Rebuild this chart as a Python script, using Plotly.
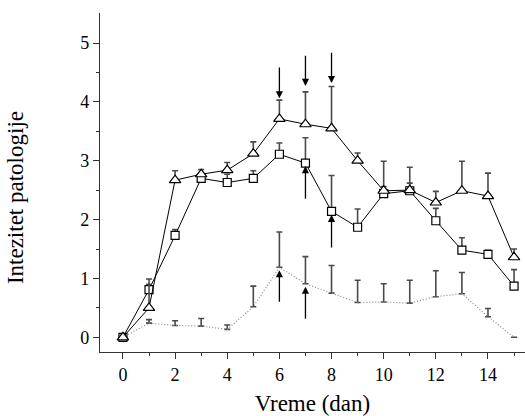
import plotly.graph_objects as go

# Days of observation
days = list(range(16))

# Group A (open triangles): mean pathology score and upper error
tri_mean = [0.00, 0.50, 2.67, 2.77, 2.84, 3.12, 3.71, 3.62, 3.55, 3.00, 2.49, 2.50, 2.29, 2.49, 2.40, 1.36]
tri_top = [0.00, 0.90, 2.83, 2.85, 2.97, 3.32, 4.03, 4.17, 4.26, 3.13, 2.99, 2.89, 2.48, 2.99, 2.79, 1.50]

# Group B (open squares)
sq_mean = [0.00, 0.81, 1.73, 2.70, 2.63, 2.70, 3.11, 2.96, 2.14, 1.87, 2.44, 2.49, 1.98, 1.48, 1.41, 0.87]
sq_top = [0.00, 0.99, 1.83, 2.76, 2.77, 2.83, 3.30, 3.39, 2.75, 2.18, 2.56, 2.62, 2.19, 1.69, 1.48, 1.15]

# Group C (dotted line, no markers)
dot_mean = [0.00, 0.24, 0.20, 0.19, 0.135, 0.52, 1.19, 0.91, 0.75, 0.59, 0.60, 0.58, 0.69, 0.74, 0.35, 0.00]
dot_top = [0.00, 0.30, 0.28, 0.32, 0.21, 0.87, 1.79, 1.37, 1.22, 0.97, 0.91, 0.97, 1.13, 1.10, 0.49, 0.00]

# Arrows marking treatment days: x, tail y, head y
arrow_x = [6, 7, 8, 7, 8, 6, 7]
arrow_from = [4.61, 4.81, 4.86, 2.33, 1.50, 0.58, 0.29]
arrow_to = [4.06, 4.27, 4.32, 2.91, 2.08, 1.14, 0.86]

FONT = "Times New Roman, Liberation Serif, serif"
ERR_COL = "#4a4a4a"


def upper(top, mean):
    return [round(t - m, 3) for t, m in zip(top, mean)]


fig = go.Figure()

fig.add_trace(go.Scatter(
    x=days, y=dot_mean, mode="lines",
    line=dict(color="#8a8a8a", width=1.2, dash="1px,2px"),
    error_y=dict(type="data", symmetric=False, array=upper(dot_top, dot_mean),
                 arrayminus=[0] * len(days), color=ERR_COL, thickness=1.6, width=3),
    showlegend=False,
))

fig.add_trace(go.Scatter(
    x=days, y=sq_mean, mode="lines+markers",
    line=dict(color="black", width=1),
    marker=dict(symbol="square", size=8, color="white", line=dict(color="black", width=1.2)),
    error_y=dict(type="data", symmetric=False, array=upper(sq_top, sq_mean),
                 arrayminus=[0] * len(days), color=ERR_COL, thickness=1.6, width=3),
    showlegend=False,
))

fig.add_trace(go.Scatter(
    x=days, y=tri_mean, mode="lines+markers",
    line=dict(color="black", width=1),
    marker=dict(symbol="triangle-up", size=10, color="white", line=dict(color="black", width=1.2)),
    error_y=dict(type="data", symmetric=False, array=upper(tri_top, tri_mean),
                 arrayminus=[0] * len(days), color=ERR_COL, thickness=1.6, width=3),
    showlegend=False,
))

for xa, y0, y1 in zip(arrow_x, arrow_from, arrow_to):
    fig.add_annotation(
        x=xa, y=y1, ax=xa, ay=y0, xref="x", yref="y", axref="x", ayref="y",
        text="", showarrow=True, arrowhead=2, arrowsize=1.1, arrowwidth=1.3,
        arrowcolor="black", standoff=0, startstandoff=0,
    )

# Vertical axis title, placed as rotated text left of the tick labels
fig.add_annotation(
    text="Intezitet patologije", textangle=-90, showarrow=False,
    xref="paper", yref="paper", x=-0.2, y=0.454, xanchor="center", yanchor="middle",
    font=dict(family=FONT, size=23, color="black"),
)

fig.update_layout(
    width=525, height=416,
    margin=dict(l=100, r=0, t=13, b=64),
    paper_bgcolor="white", plot_bgcolor="white",
    font=dict(family=FONT, size=18, color="black"),
)

fig.update_xaxes(
    range=[-0.88, 15.42], tickvals=[0, 2, 4, 6, 8, 10, 12, 14],
    ticks="outside", ticklen=6, tickwidth=1, tickcolor="#333",
    minor=dict(tickvals=[1, 3, 5, 7, 9, 11, 13, 15], ticks="outside", ticklen=3, tickcolor="#333"),
    showline=True, linecolor="#333", linewidth=1.3, showgrid=False, zeroline=False,
    tickfont=dict(family=FONT, size=18, color="black"),
    title=dict(text="Vreme (dan)", font=dict(family=FONT, size=23, color="black"), standoff=14),
    automargin=False,
)

fig.update_yaxes(
    range=[-0.25, 5.51], tickvals=[0, 1, 2, 3, 4, 5],
    ticks="outside", ticklen=6, tickwidth=1, tickcolor="#333",
    minor=dict(tickvals=[0.5, 1.5, 2.5, 3.5, 4.5], ticks="outside", ticklen=3, tickcolor="#333"),
    showline=True, linecolor="#333", linewidth=1.3, showgrid=False, zeroline=False,
    tickfont=dict(family=FONT, size=18, color="black"),
    automargin=False,
)

fig.write_html("out.html")
